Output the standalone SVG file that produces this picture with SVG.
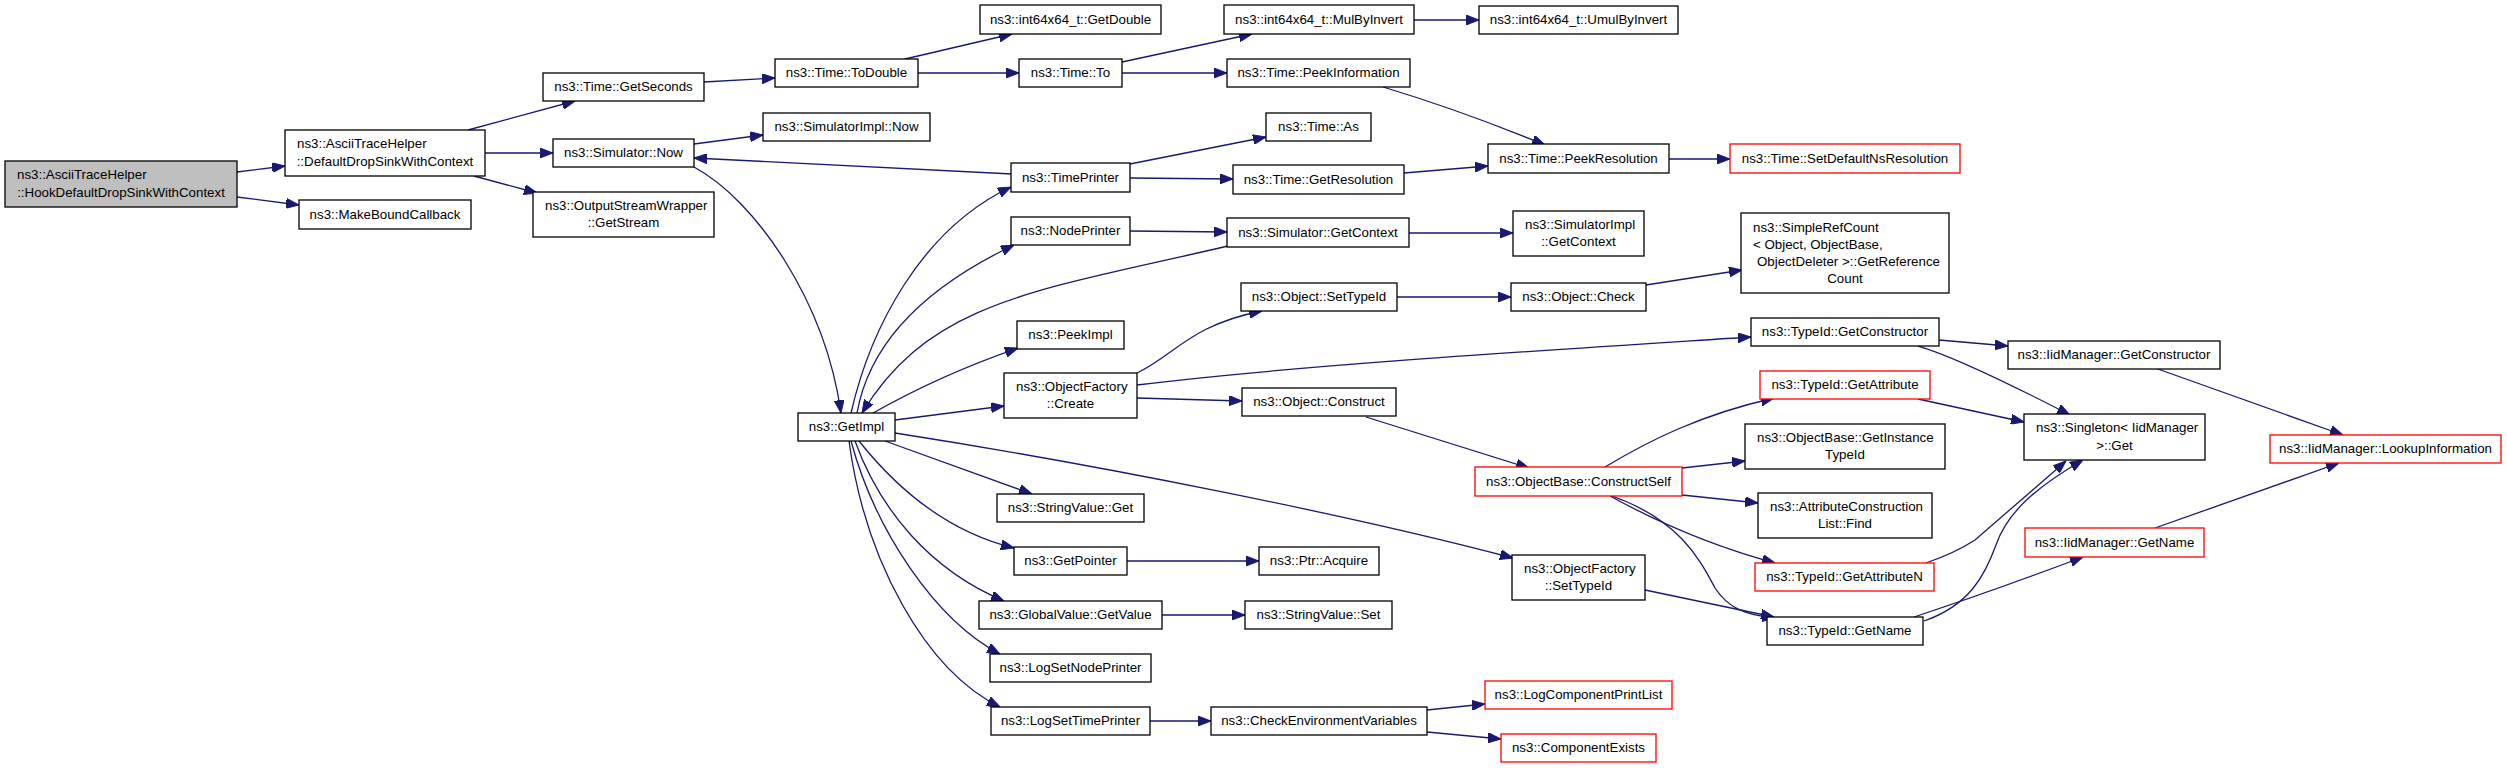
<svg xmlns="http://www.w3.org/2000/svg" width="2507" height="768" viewBox="0 0 2507 768">
<style>
.n rect{fill:#fff;stroke:#000;stroke-width:1.3}
.n.r rect{stroke:#ff0000}
.n.g rect{fill:#bfbfbf}
text{font-family:"Liberation Sans",Arial,sans-serif;font-size:13.3px;fill:#000}
.c{text-anchor:middle}
#edges path{fill:none;stroke:#191970;stroke-width:1.3;marker-end:url(#ah)}
</style>
<defs>
<marker id="ah" markerUnits="userSpaceOnUse" markerWidth="13" markerHeight="10" refX="13" refY="5" orient="auto">
<path d="M0,0 L13,5 L0,10 z" fill="#191970" stroke="#191970" stroke-width="1"/>
</marker>
</defs>
<rect width="2507" height="768" fill="#fff"/>
<g id="edges">
<path d="M237,172 L285,166"/>
<path d="M237,197 L299,205"/>
<path d="M468,130 L575,101"/>
<path d="M485,153 L553,153"/>
<path d="M474,176 L537,193"/>
<path d="M704,82 L775,78"/>
<path d="M905,59 L1012,34"/>
<path d="M918,73 L1019,73"/>
<path d="M1122,62 L1252,34"/>
<path d="M1122,73 L1227,73"/>
<path d="M1414,20 L1479,20"/>
<path d="M1383,87 Q1460,110 1545,145"/>
<path d="M694,144 L763,135"/>
<path d="M1012,174 L694,158"/>
<path d="M1130,164 L1266,137"/>
<path d="M1130,178 L1233,179"/>
<path d="M1404,173 L1488,166"/>
<path d="M1669,159 L1730,159"/>
<path d="M1130,231 L1227,232"/>
<path d="M1409,233 L1513,233"/>
<path d="M694,167 C755,200 825,300 841,413"/>
<path d="M851,413 C870,330 920,230 1011,187"/>
<path d="M857,413 C870,340 930,285 1014,245"/>
<path d="M1228,246 C1040,290 930,300 862,413"/>
<path d="M873,413 Q940,375 1018,348"/>
<path d="M895,420 L1004,406"/>
<path d="M895,433 C1100,465 1350,515 1513,558"/>
<path d="M885,441 L1032,494"/>
<path d="M859,441 C890,480 940,530 1014,548"/>
<path d="M855,441 C880,510 930,570 1004,601"/>
<path d="M851,441 C875,530 935,620 1000,654"/>
<path d="M849,441 C865,560 925,670 1000,707"/>
<path d="M1127,561 L1259,561"/>
<path d="M1162,615 L1245,615"/>
<path d="M1150,721 L1211,721"/>
<path d="M1427,710 L1485,704"/>
<path d="M1427,732 L1501,739"/>
<path d="M1137,373 C1175,355 1190,325 1262,311"/>
<path d="M1137,385 C1300,365 1550,350 1751,337"/>
<path d="M1137,398 L1242,401"/>
<path d="M1397,297 L1511,297"/>
<path d="M1646,285 L1742,270"/>
<path d="M1366,417 L1529,468"/>
<path d="M1605,467 C1650,440 1700,415 1774,398"/>
<path d="M1682,468 L1745,461"/>
<path d="M1682,495 L1758,503"/>
<path d="M1610,496 Q1690,540 1775,563"/>
<path d="M1612,496 C1680,520 1700,560 1715,588 C1728,608 1745,615 1775,618"/>
<path d="M1645,590 L1774,617"/>
<path d="M1939,340 L2008,346"/>
<path d="M1918,346 Q1960,358 2070,415"/>
<path d="M1918,399 L2024,422"/>
<path d="M2155,368 L2343,435"/>
<path d="M2155,528 L2339,463"/>
<path d="M1926,563 Q1955,553 1975,540 L2066,461"/>
<path d="M1924,621 C1970,605 1985,575 1996,545 C2008,510 2040,485 2083,460"/>
<path d="M1914,617 Q1990,592 2083,557"/>
</g>
<g id="n_hook" class="n g"><rect x="5" y="161" width="232" height="46"/><text x="17" y="179">ns3::AsciiTraceHelper</text><text class="c" x="121" y="196.5">::HookDefaultDropSinkWithContext</text></g>
<g id="n_defdrop" class="n"><rect x="285" y="130" width="200" height="46"/><text x="297" y="148">ns3::AsciiTraceHelper</text><text class="c" x="385" y="165.5">::DefaultDropSinkWithContext</text></g>
<g id="n_makebound" class="n"><rect x="299" y="200" width="172" height="29"/><text class="c" x="385" y="218.5">ns3::MakeBoundCallback</text></g>
<g id="n_getseconds" class="n"><rect x="543" y="73" width="161" height="28"/><text class="c" x="623.5" y="91">ns3::Time::GetSeconds</text></g>
<g id="n_simnow" class="n"><rect x="553" y="139" width="141" height="28"/><text class="c" x="623.5" y="157">ns3::Simulator::Now</text></g>
<g id="n_getstream" class="n"><rect x="533" y="192" width="181" height="45"/><text x="545" y="209.5">ns3::OutputStreamWrapper</text><text class="c" x="623.5" y="227">::GetStream</text></g>
<g id="n_todouble" class="n"><rect x="775" y="59" width="143" height="28"/><text class="c" x="846.5" y="77">ns3::Time::ToDouble</text></g>
<g id="n_getdouble" class="n"><rect x="980" y="5" width="181" height="29"/><text class="c" x="1070.5" y="23.5">ns3::int64x64_t::GetDouble</text></g>
<g id="n_timeto" class="n"><rect x="1019" y="59" width="103" height="28"/><text class="c" x="1070.5" y="77">ns3::Time::To</text></g>
<g id="n_mulbyinv" class="n"><rect x="1224" y="5" width="190" height="29"/><text class="c" x="1319" y="23.5">ns3::int64x64_t::MulByInvert</text></g>
<g id="n_peekinfo" class="n"><rect x="1227" y="59" width="183" height="28"/><text class="c" x="1318.5" y="77">ns3::Time::PeekInformation</text></g>
<g id="n_simimplnow" class="n"><rect x="763" y="113" width="167" height="28"/><text class="c" x="846.5" y="131">ns3::SimulatorImpl::Now</text></g>
<g id="n_timeprinter" class="n"><rect x="1011" y="163" width="119" height="29"/><text class="c" x="1070.5" y="181.5">ns3::TimePrinter</text></g>
<g id="n_getres" class="n"><rect x="1233" y="165" width="171" height="29"/><text class="c" x="1318.5" y="183.5">ns3::Time::GetResolution</text></g>
<g id="n_nodeprinter" class="n"><rect x="1011" y="217" width="119" height="28"/><text class="c" x="1070.5" y="235">ns3::NodePrinter</text></g>
<g id="n_simgetctx" class="n"><rect x="1227" y="218" width="182" height="29"/><text class="c" x="1318" y="236.5">ns3::Simulator::GetContext</text></g>
<g id="n_umul" class="n"><rect x="1479" y="6" width="199" height="28"/><text class="c" x="1578.5" y="24">ns3::int64x64_t::UmulByInvert</text></g>
<g id="n_timeas" class="n"><rect x="1266" y="113" width="105" height="28"/><text class="c" x="1318.5" y="131">ns3::Time::As</text></g>
<g id="n_peekres" class="n"><rect x="1488" y="144" width="181" height="29"/><text class="c" x="1578.5" y="162.5">ns3::Time::PeekResolution</text></g>
<g id="n_setdefns" class="n r"><rect x="1730" y="144" width="230" height="29"/><text class="c" x="1845" y="162.5">ns3::Time::SetDefaultNsResolution</text></g>
<g id="n_simimplgetctx" class="n"><rect x="1513" y="211" width="131" height="45"/><text x="1525" y="228.5">ns3::SimulatorImpl</text><text class="c" x="1578.5" y="246">::GetContext</text></g>
<g id="n_simplerefcount" class="n"><rect x="1741" y="213" width="208" height="80"/><text x="1753" y="231.5">ns3::SimpleRefCount</text><text x="1753" y="248.5">&lt; Object, ObjectBase,</text><text x="1757" y="265.5">ObjectDeleter &gt;::GetReference</text><text class="c" x="1845" y="282.5">Count</text></g>
<g id="n_getimpl" class="n"><rect x="798" y="413" width="97" height="28"/><text class="c" x="846.5" y="431">ns3::GetImpl</text></g>
<g id="n_peekimpl" class="n"><rect x="1017" y="321" width="107" height="28"/><text class="c" x="1070.5" y="339">ns3::PeekImpl</text></g>
<g id="n_ofcreate" class="n"><rect x="1004" y="373" width="133" height="45"/><text x="1016" y="390.5">ns3::ObjectFactory</text><text class="c" x="1070.5" y="408">::Create</text></g>
<g id="n_stringget" class="n"><rect x="997" y="494" width="147" height="28"/><text class="c" x="1070.5" y="512">ns3::StringValue::Get</text></g>
<g id="n_getpointer" class="n"><rect x="1014" y="547" width="113" height="28"/><text class="c" x="1070.5" y="565">ns3::GetPointer</text></g>
<g id="n_globalget" class="n"><rect x="979" y="601" width="183" height="28"/><text class="c" x="1070.5" y="619">ns3::GlobalValue::GetValue</text></g>
<g id="n_logsetnode" class="n"><rect x="990" y="654" width="161" height="28"/><text class="c" x="1070.5" y="672">ns3::LogSetNodePrinter</text></g>
<g id="n_logsettime" class="n"><rect x="991" y="707" width="159" height="28"/><text class="c" x="1070.5" y="725">ns3::LogSetTimePrinter</text></g>
<g id="n_checkenv" class="n"><rect x="1211" y="707" width="216" height="28"/><text class="c" x="1319" y="725">ns3::CheckEnvironmentVariables</text></g>
<g id="n_acquire" class="n"><rect x="1259" y="547" width="120" height="28"/><text class="c" x="1319" y="565">ns3::Ptr::Acquire</text></g>
<g id="n_strset" class="n"><rect x="1245" y="601" width="147" height="28"/><text class="c" x="1318.5" y="619">ns3::StringValue::Set</text></g>
<g id="n_objsettypeid" class="n"><rect x="1241" y="283" width="156" height="28"/><text class="c" x="1319" y="301">ns3::Object::SetTypeId</text></g>
<g id="n_objcheck" class="n"><rect x="1511" y="283" width="135" height="28"/><text class="c" x="1578.5" y="301">ns3::Object::Check</text></g>
<g id="n_tidgetctor" class="n"><rect x="1751" y="318" width="188" height="28"/><text class="c" x="1845" y="336">ns3::TypeId::GetConstructor</text></g>
<g id="n_tidgetattr" class="n r"><rect x="1760" y="371" width="170" height="28"/><text class="c" x="1845" y="389">ns3::TypeId::GetAttribute</text></g>
<g id="n_getinsttid" class="n"><rect x="1745" y="424" width="200" height="45"/><text x="1757" y="441.5">ns3::ObjectBase::GetInstance</text><text class="c" x="1845" y="459">TypeId</text></g>
<g id="n_objconstruct" class="n"><rect x="1242" y="388" width="154" height="28"/><text class="c" x="1319" y="406">ns3::Object::Construct</text></g>
<g id="n_constructself" class="n r"><rect x="1475" y="467" width="207" height="29"/><text class="c" x="1578.5" y="485.5">ns3::ObjectBase::ConstructSelf</text></g>
<g id="n_attrfind" class="n"><rect x="1758" y="493" width="174" height="45"/><text x="1770" y="510.5">ns3::AttributeConstruction</text><text class="c" x="1845" y="528">List::Find</text></g>
<g id="n_ofsettypeid" class="n"><rect x="1512" y="555" width="133" height="45"/><text x="1524" y="572.5">ns3::ObjectFactory</text><text class="c" x="1578.5" y="590">::SetTypeId</text></g>
<g id="n_tidgetattrn" class="n r"><rect x="1755" y="563" width="179" height="28"/><text class="c" x="1844.5" y="581">ns3::TypeId::GetAttributeN</text></g>
<g id="n_tidgetname" class="n"><rect x="1767" y="617" width="156" height="28"/><text class="c" x="1845" y="635">ns3::TypeId::GetName</text></g>
<g id="n_logcompprint" class="n r"><rect x="1485" y="681" width="187" height="28"/><text class="c" x="1578.5" y="699">ns3::LogComponentPrintList</text></g>
<g id="n_compexists" class="n r"><rect x="1501" y="734" width="155" height="28"/><text class="c" x="1578.5" y="752">ns3::ComponentExists</text></g>
<g id="n_iidgetctor" class="n"><rect x="2008" y="341" width="212" height="28"/><text class="c" x="2114" y="359">ns3::IidManager::GetConstructor</text></g>
<g id="n_singleton" class="n"><rect x="2024" y="414" width="181" height="46"/><text x="2036" y="432">ns3::Singleton&lt; IidManager</text><text class="c" x="2114.5" y="449.5">&gt;::Get</text></g>
<g id="n_lookup" class="n r"><rect x="2270" y="435" width="231" height="28"/><text class="c" x="2385.5" y="453">ns3::IidManager::LookupInformation</text></g>
<g id="n_iidgetname" class="n r"><rect x="2025" y="528" width="179" height="29"/><text class="c" x="2114.5" y="546.5">ns3::IidManager::GetName</text></g>
</svg>
